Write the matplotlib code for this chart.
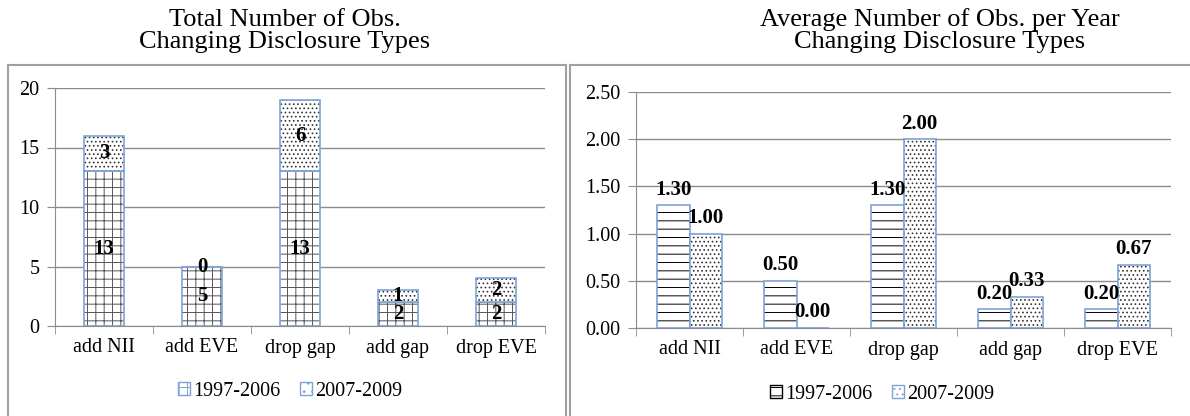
import numpy as np
import matplotlib
matplotlib.use("Agg")
import matplotlib.pyplot as plt
from matplotlib.patches import Rectangle, Patch

plt.rcParams['font.family'] = ['Liberation Serif', 'DejaVu Serif']
plt.rcParams['hatch.linewidth'] = 0.7

categories = ['add NII', 'add EVE', 'drop gap', 'add gap', 'drop EVE']
series = ['1997-2006', '2007-2009']

# total counts (stacked)
total_early = [13, 5, 13, 2, 2]
total_late = [3, 0, 6, 1, 2]

# average per year (clustered)
avg_early = [1.30, 0.50, 1.30, 0.20, 0.20]
avg_late = [1.00, 0.00, 2.00, 0.33, 0.67]

edge_blue = '#7EA3D6'
grid_gray = '#8C8C8C'

fig = plt.figure(figsize=(11.9, 4.16), dpi=100)

# panel frames
fig.add_artist(Rectangle((8 / 1190, -0.1), 558 / 1190, 1.1 - 65 / 416,
                         transform=fig.transFigure, fill=False,
                         edgecolor='#A0A0A0', lw=1.5))
fig.add_artist(Rectangle((570 / 1190, -0.1), 640 / 1190, 1.1 - 65 / 416,
                         transform=fig.transFigure, fill=False,
                         edgecolor='#A0A0A0', lw=1.5))

fig.text(285 / 1190, 1 - 31 / 416, 'Total Number of Obs.\nChanging Disclosure Types',
         ha='center', va='center', fontsize=19, linespacing=1.0)
fig.text(940 / 1190, 1 - 31 / 416, 'Average Number of Obs. per Year\nChanging Disclosure Types',
         ha='center', va='center', fontsize=19, linespacing=1.0)


def style_axes(ax, ymax, step, fmt):
    ax.set_xlim(-0.5, len(categories) - 0.5)
    ax.set_ylim(0, ymax)
    ax.set_yticks(np.arange(0, ymax + step / 2, step))
    ax.yaxis.set_major_formatter(matplotlib.ticker.FormatStrFormatter(fmt))
    ax.set_xticks(range(len(categories)))
    ax.set_xticklabels(categories)
    ax.set_xticks(np.arange(-0.5, len(categories)), minor=True)
    ax.tick_params(axis='x', which='major', length=0, pad=9, labelsize=14.5)
    ax.tick_params(axis='x', which='minor', length=6, color=grid_gray, direction='out')
    ax.tick_params(axis='y', length=6, color=grid_gray, pad=5, labelsize=14.5)
    for s in ['top', 'right']:
        ax.spines[s].set_visible(False)
    for s in ['left', 'bottom']:
        ax.spines[s].set_color(grid_gray)
    ax.grid(axis='y', color=grid_gray, lw=1)
    ax.set_axisbelow(True)


def hatched_bar(ax, x, h, width, hatch, bottom=None, hc='#333333'):
    ax.bar(x, h, width, bottom=bottom, color='white', edgecolor=hc,
           hatch=hatch, linewidth=0)
    ax.bar(x, h, width, bottom=bottom, fill=False, edgecolor=edge_blue,
           linewidth=1.2)


# left: stacked totals
ax1 = fig.add_axes([55 / 1190, 90 / 416, 490 / 1190, 238 / 416])
x = np.arange(len(categories))
w1 = 0.41
hatched_bar(ax1, x, total_early, w1, '++', hc='#555555')
hatched_bar(ax1, x, total_late, w1, '....', bottom=total_early)
style_axes(ax1, 20, 5, '%d')
for i in range(len(categories)):
    ax1.text(x[i], total_early[i] / 2, str(total_early[i]), ha='center',
             va='center', fontsize=15, fontweight='bold')
    ax1.text(x[i], total_early[i] + total_late[i] / 2, str(total_late[i]),
             ha='center', va='center', fontsize=15, fontweight='bold')
handles = [Patch(facecolor='white', edgecolor=edge_blue, hatch='++'),
           Patch(facecolor='white', edgecolor=edge_blue, hatch='..')]
ax1.legend(handles, series, loc='center', bbox_to_anchor=(0.48, -0.275),
           ncol=2, frameon=False, fontsize=14.5, handlelength=0.6,
           handleheight=0.6, handletextpad=0.15, columnspacing=1.0)

# right: clustered averages
ax2 = fig.add_axes([636 / 1190, 88 / 416, 535 / 1190, 236 / 416])
w2 = 0.3
hatched_bar(ax2, x - w2 / 2, avg_early, w2, '--', hc='black')
hatched_bar(ax2, x + w2 / 2, avg_late, w2, '....')
style_axes(ax2, 2.5, 0.5, '%.2f')
for i in range(len(categories)):
    ax2.annotate('%.2f' % avg_early[i], (x[i] - w2 / 2, avg_early[i]),
                 xytext=(0, 4), textcoords='offset points', ha='center',
                 va='bottom', fontsize=15, fontweight='bold')
    ax2.annotate('%.2f' % avg_late[i], (x[i] + w2 / 2, avg_late[i]),
                 xytext=(0, 4), textcoords='offset points', ha='center',
                 va='bottom', fontsize=15, fontweight='bold')
handles = [Patch(facecolor='white', edgecolor='black', hatch='--'),
           Patch(facecolor='white', edgecolor=edge_blue, hatch='...')]
ax2.legend(handles, series, loc='center', bbox_to_anchor=(0.46, -0.28),
           ncol=2, frameon=False, fontsize=14.5, handlelength=0.6,
           handleheight=0.6, handletextpad=0.15, columnspacing=1.0)

plt.savefig('out.png', dpi=100)
